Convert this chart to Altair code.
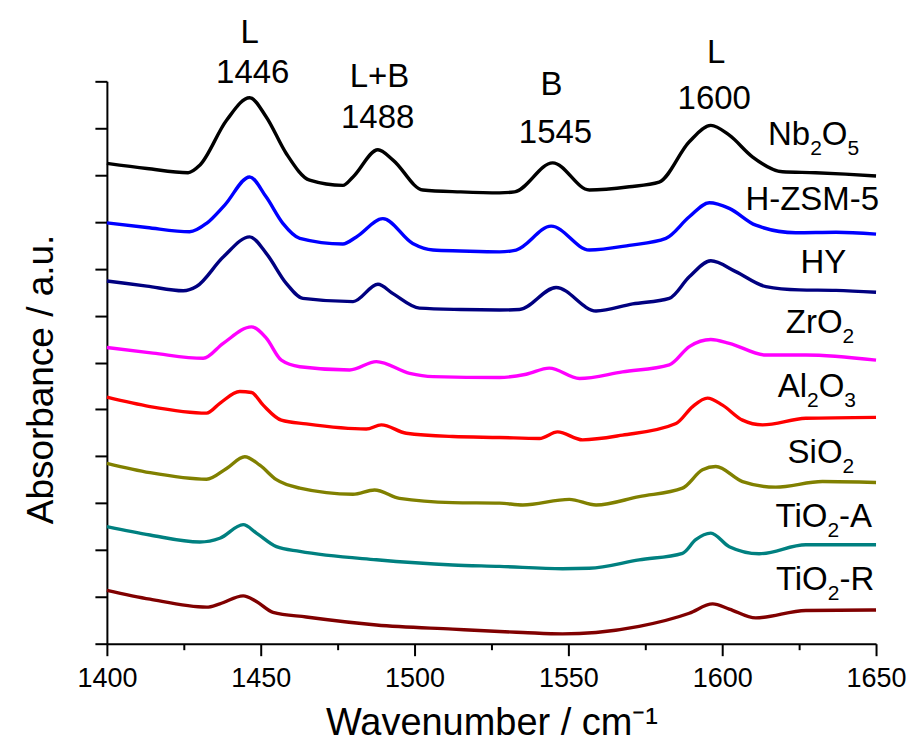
import altair as alt
import pandas as pd

# ---- data (wavenumber, absorbance in a.u.) ----
nb_w = [1400, 1413, 1426.4, 1430.2, 1438.9, 1446.4, 1451.8, 1458.3, 1465.9, 1476.7, 1480, 1488.1, 1493, 1502.7, 1515, 1527.6, 1532.5, 1544.9, 1556.8, 1569.8, 1579.5, 1589.3, 1596.3, 1602.3, 1609.8, 1619.6, 1630.4, 1640, 1650]
nb_a = [10.25, 10.14, 10.05, 10.21, 11.17, 11.65, 11.24, 10.46, 9.89, 9.78, 9.96, 10.54, 10.32, 9.68, 9.64, 9.62, 9.64, 10.26, 9.68, 9.75, 9.85, 10.71, 11.06, 10.85, 10.39, 10.07, 10.05, 10.02, 9.98]

zsm_w = [1400, 1413, 1426.9, 1432.4, 1438.3, 1446.4, 1451.8, 1457.2, 1462.7, 1476.7, 1481.1, 1489.7, 1499.4, 1506, 1515, 1527.6, 1533, 1544.4, 1556.8, 1569.8, 1581.7, 1589.3, 1595.8, 1602.3, 1610.9, 1623.9, 1637, 1650]
zsm_a = [8.98, 8.88, 8.79, 8.97, 9.36, 9.96, 9.53, 8.97, 8.65, 8.53, 8.68, 9.07, 8.54, 8.40, 8.38, 8.36, 8.40, 8.91, 8.40, 8.50, 8.65, 9.11, 9.41, 9.29, 8.93, 8.77, 8.78, 8.74]

hy_w = [1400, 1413, 1424.8, 1429.1, 1437.8, 1446.4, 1451.8, 1458.3, 1463.7, 1480, 1488.1, 1493, 1501.6, 1515, 1527.6, 1534.1, 1546, 1559, 1570.9, 1582.8, 1589.3, 1596.3, 1604.4, 1614.2, 1625, 1637, 1650]
hy_a = [7.74, 7.63, 7.53, 7.62, 8.25, 8.68, 8.33, 7.69, 7.37, 7.30, 7.67, 7.47, 7.16, 7.13, 7.12, 7.13, 7.60, 7.10, 7.25, 7.37, 7.83, 8.17, 7.94, 7.62, 7.55, 7.54, 7.50]

zr_w = [1400, 1415, 1431.3, 1437.8, 1447, 1451.8, 1456.7, 1462.7, 1478.9, 1487.6, 1498.4, 1506, 1527.6, 1536.3, 1543.8, 1553.6, 1567.6, 1582.8, 1589.3, 1596.3, 1602.3, 1614.2, 1627.2, 1650]
zr_a = [6.32, 6.20, 6.09, 6.41, 6.76, 6.52, 6.05, 5.91, 5.84, 6.02, 5.77, 5.70, 5.68, 5.75, 5.88, 5.66, 5.80, 5.95, 6.34, 6.49, 6.41, 6.16, 6.16, 6.05]

al_w = [1400, 1414, 1432.4, 1436.7, 1443.2, 1447, 1450.8, 1456.7, 1464.8, 1484.3, 1489.2, 1497.3, 1512.4, 1527.6, 1540.6, 1546.5, 1554.6, 1567.6, 1585, 1590.4, 1595.2, 1600.1, 1606.6, 1613.1, 1627.2, 1650]
al_a = [5.26, 5.06, 4.92, 5.13, 5.38, 5.36, 5.09, 4.77, 4.69, 4.58, 4.67, 4.49, 4.42, 4.40, 4.38, 4.52, 4.35, 4.45, 4.70, 5.06, 5.24, 5.09, 4.77, 4.67, 4.81, 4.83]

si_w = [1400, 1414, 1432.4, 1438.9, 1444.8, 1449.7, 1455.1, 1462.7, 1480, 1487, 1495.1, 1512.4, 1527.6, 1535.2, 1550.3, 1559, 1573, 1587.1, 1593.6, 1597.9, 1606.6, 1617.4, 1632.6, 1650]
si_a = [3.85, 3.65, 3.51, 3.74, 3.99, 3.81, 3.50, 3.32, 3.19, 3.28, 3.10, 3.01, 3.00, 2.96, 3.08, 2.96, 3.14, 3.32, 3.71, 3.78, 3.46, 3.34, 3.46, 3.44]

tia_w = [1400, 1414, 1430.2, 1436.7, 1444.3, 1448.6, 1455.1, 1462.7, 1487.6, 1512.4, 1527.6, 1548.1, 1556.8, 1573, 1587.1, 1591.4, 1596.3, 1602.3, 1612, 1627.2, 1650]
tia_a = [2.50, 2.32, 2.17, 2.25, 2.54, 2.36, 2.07, 1.97, 1.79, 1.68, 1.65, 1.60, 1.61, 1.79, 1.93, 2.22, 2.36, 2.07, 1.92, 2.11, 2.11]

tir_w = [1400, 1414, 1432.4, 1436.7, 1444.3, 1448.6, 1454, 1464.8, 1487.6, 1512.4, 1527.6, 1535.2, 1548.1, 1559, 1573, 1589.3, 1596.9, 1602.3, 1610.9, 1627.2, 1650]
tir_a = [1.14, 0.95, 0.78, 0.85, 1.02, 0.90, 0.67, 0.57, 0.40, 0.31, 0.26, 0.24, 0.21, 0.24, 0.37, 0.65, 0.85, 0.74, 0.55, 0.71, 0.72]

series_names = ["Nb2O5", "H-ZSM-5", "HY", "ZrO2", "Al2O3", "SiO2", "TiO2-A", "TiO2-R"]
series_colors = ["#000000", "#0000FF", "#000080", "#FF00FF", "#FF0000", "#808000", "#008080", "#800000"]
series_w = [nb_w, zsm_w, hy_w, zr_w, al_w, si_w, tia_w, tir_w]
series_a = [nb_a, zsm_a, hy_a, zr_a, al_a, si_a, tia_a, tir_a]

# series labels: segments (text, is_subscript), right-edge wavenumber, baseline absorbance
label_parts = [
    [("Nb", 0), ("2", 1), ("O", 0), ("5", 1)],
    [("H-ZSM-5", 0)],
    [("HY", 0)],
    [("ZrO", 0), ("2", 1)],
    [("Al", 0), ("2", 1), ("O", 0), ("3", 1)],
    [("SiO", 0), ("2", 1)],
    [("TiO", 0), ("2", 1), ("-A", 0)],
    [("TiO", 0), ("2", 1), ("-R", 0)],
]
label_w = [1644.5, 1651, 1640.3, 1642.9, 1643.5, 1642.9, 1648.7, 1649.4]
label_a = [10.64, 9.25, 7.91, 6.63, 5.26, 3.86, 2.49, 1.15]

# peak annotations
peak_text = ["L", "1446", "L+B", "1488", "B", "1545", "L", "1600"]
peak_w = [1446.4, 1447.4, 1488.6, 1488.0, 1544.5, 1545.8, 1598.0, 1597.4]
peak_a = [12.81, 11.96, 11.87, 11.00, 11.70, 10.68, 12.40, 11.42]

FONT = "Liberation Sans, Arial, sans-serif"
MAIN_SIZE = 33
SUB_SIZE = 21
PLOT_W, PLOT_H = 770, 563
X_MIN, X_MAX = 1400, 1650

# Arial advance widths (em) used to lay text segments side by side
ADV = {"N": .722, "b": .556, "O": .778, "H": .722, "-": .333, "Z": .611, "S": .667,
       "M": .833, "Y": .667, "r": .333, "A": .667, "l": .222, "i": .222, "T": .611,
       "R": .722, "2": .556, "3": .556, "5": .556}


def seg_width(txt, size):
    return sum(ADV.get(c, .556) for c in txt) * size


rows = []
for name, ws, vals in zip(series_names, series_w, series_a):
    for w, v in zip(ws, vals):
        rows.append({"sample": name, "wavenumber": w, "absorbance": v})
df = pd.DataFrame(rows)

px_per_unit = PLOT_W / (X_MAX - X_MIN)
main_rows, sub_rows = [], []
for parts, rw, ra in zip(label_parts, label_w, label_a):
    after = 0.0
    for txt, is_sub in reversed(parts):
        size = SUB_SIZE if is_sub else MAIN_SIZE
        rec = {"text": txt, "wavenumber": rw - after / px_per_unit, "absorbance": ra}
        (sub_rows if is_sub else main_rows).append(rec)
        after += seg_width(txt, size)
main_df = pd.DataFrame(main_rows)
sub_df = pd.DataFrame(sub_rows)
peak_df = pd.DataFrame({"text": peak_text, "wavenumber": peak_w, "absorbance": peak_a})

x_scale = alt.Scale(domain=[X_MIN, X_MAX], nice=False, zero=False)
y_scale = alt.Scale(domain=[0, 12], nice=False, zero=False)

x_ticks = list(range(1400, 1651, 25))
y_ticks = [i * 0.5 for i in range(0, 25)]

x_axis = alt.Axis(
    values=x_ticks, format="d",
    labelExpr="datum.value % 50 === 0 ? datum.label : ''",
    tickSize={"condition": {"test": "datum.value % 50 === 0", "value": 12}, "value": 6},
    tickWidth=2, tickColor="black",
    domainColor="black", domainWidth=2,
    grid=False,
    labelFont=FONT, labelFontSize=27, labelColor="black",
    labelBaseline="alphabetic", labelPadding=31, labelFlush=False,
    title="Wavenumber / cm\u207b\u00b9",
    titleFont=FONT, titleFontSize=38, titleFontWeight="normal", titleColor="black",
    titleBaseline="alphabetic", titleX=385, titleY=91, titleAlign="center",
)
y_axis = alt.Axis(
    values=y_ticks,
    labels=False,
    tickSize={"condition": {"test": "datum.value % 1 === 0", "value": 12}, "value": 7},
    tickWidth=2, tickColor="black",
    domainColor="black", domainWidth=2,
    grid=False,
    title="Absorbance / a.u.",
    titleFont=FONT, titleFontSize=37, titleFontWeight="normal", titleColor="black",
    titleBaseline="alphabetic", titleX=-54, titleY=298, titleAlign="center", titleAngle=270,
)

lines = alt.Chart(df).mark_line(strokeWidth=3.4, interpolate="monotone").encode(
    x=alt.X("wavenumber:Q", scale=x_scale, axis=x_axis),
    y=alt.Y("absorbance:Q", scale=y_scale, axis=y_axis),
    color=alt.Color("sample:N", scale=alt.Scale(domain=series_names, range=series_colors), legend=None),
    detail="sample:N",
)

main_labels = alt.Chart(main_df).mark_text(
    align="right", baseline="alphabetic", font=FONT, fontSize=MAIN_SIZE, color="black"
).encode(
    x=alt.X("wavenumber:Q", scale=x_scale),
    y=alt.Y("absorbance:Q", scale=y_scale),
    text="text:N",
)

sub_labels = alt.Chart(sub_df).mark_text(
    align="right", baseline="alphabetic", font=FONT, fontSize=SUB_SIZE, color="black", dy=10
).encode(
    x=alt.X("wavenumber:Q", scale=x_scale),
    y=alt.Y("absorbance:Q", scale=y_scale),
    text="text:N",
)

peaks = alt.Chart(peak_df).mark_text(
    align="center", baseline="alphabetic", font=FONT, fontSize=MAIN_SIZE, color="black"
).encode(
    x=alt.X("wavenumber:Q", scale=x_scale),
    y=alt.Y("absorbance:Q", scale=y_scale),
    text="text:N",
)

chart = alt.layer(lines, main_labels, sub_labels, peaks).properties(
    width=PLOT_W, height=PLOT_H,
    autosize=alt.AutoSizeParams(type="none"),
    padding={"left": 99, "top": 73, "right": 32, "bottom": 98},
).configure_view(strokeWidth=0)

chart.save("out.html", embed_options={"renderer": "svg", "actions": False})
